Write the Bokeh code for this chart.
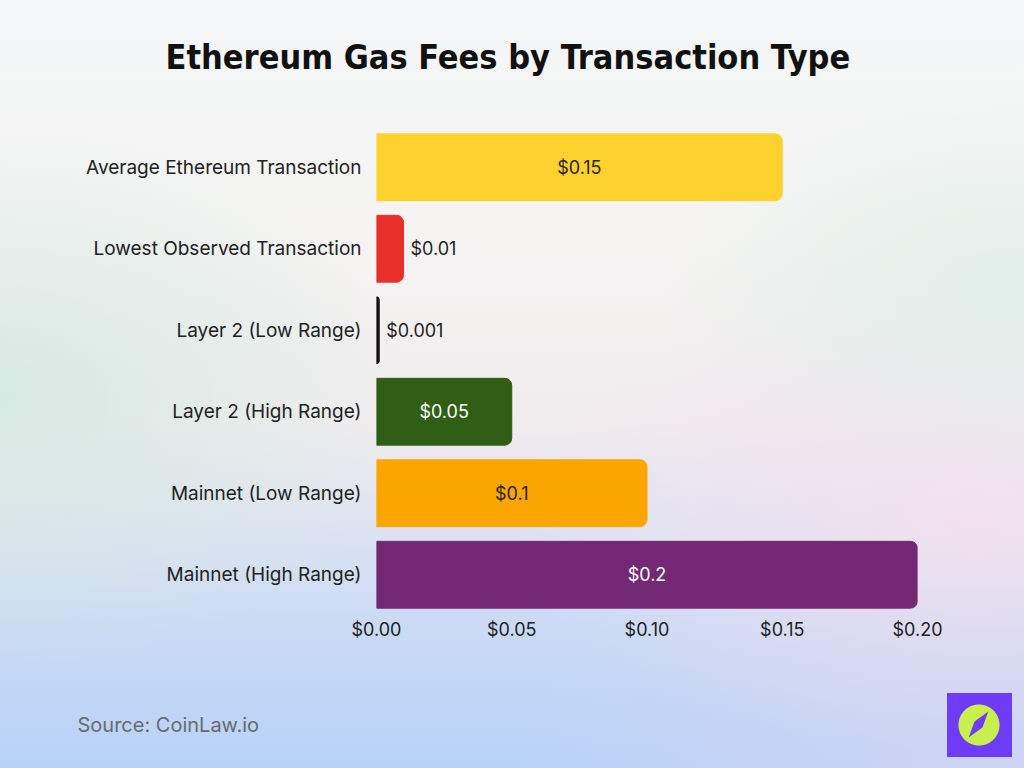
from bokeh.plotting import figure
from bokeh.models import (ColumnDataSource, NumeralTickFormatter, FixedTicker, Title,
                          InlineStyleSheet)
from bokeh.core.properties import value
from bokeh.embed import file_html
from bokeh.resources import INLINE

# ---- data ----
categories = ["Average Ethereum Transaction", "Lowest Observed Transaction",
              "Layer 2 (Low Range)", "Layer 2 (High Range)",
              "Mainnet (Low Range)", "Mainnet (High Range)"]
fees = [0.15, 0.01, 0.001, 0.05, 0.10, 0.20]
value_labels = ["$0.15", "$0.01", "$0.001", "$0.05", "$0.1", "$0.2"]
bar_colors = ["#FDD22F", "#E8302A", "#111111", "#2F5E14", "#FBA600", "#722873"]
label_colors = ["#2a2320", "#1e1e1e", "#1e1e1e", "#ffffff", "#2a2320", "#ffffff"]
label_inside = [True, False, False, True, True, True]
x_ticks = [0.0, 0.05, 0.10, 0.15, 0.20]

W, H = 1024, 768
FL, FR, FT, FB = 376, 917, 126, 615   # frame edges on canvas

lab_x = [f / 2 if inside else f for f, inside in zip(fees, label_inside)]
lab_align = ["center" if inside else "left" for inside in label_inside]
lab_off = [0 if inside else 7 for inside in label_inside]

src = ColumnDataSource(dict(cat=categories, fee=fees, color=bar_colors,
                            lab=value_labels, lx=lab_x, lcol=label_colors,
                            align=lab_align, off=lab_off))

p = figure(width=W, height=H, y_range=list(reversed(categories)),
           x_range=(0, 0.2), output_backend="svg", toolbar_location=None,
           min_border_left=FL, min_border_right=W - FR,
           min_border_top=FT, min_border_bottom=H - FB)
p.styles = {"background": (
    "radial-gradient(ellipse 40% 35% at 0% 52%, rgba(212,233,226,0.95), rgba(212,233,226,0)), "
    "radial-gradient(ellipse 35% 25% at 100% 38%, rgba(222,238,232,0.9), rgba(222,238,232,0)), "
    "radial-gradient(ellipse 45% 30% at 95% 68%, rgba(242,224,238,0.95), rgba(242,224,238,0)), "
    "radial-gradient(ellipse 50% 30% at 100% 100%, rgba(206,212,244,1), rgba(206,212,244,0)), "
    "linear-gradient(180deg, #f4f6f7 0%, #f5f4f3 30%, #f1ecee 55%, #c9daf5 82%, #b8d2f8 100%)")}
p.stylesheets = [InlineStyleSheet(css="""
:host { position: relative; }
:host::after {
  content: ""; position: absolute; left: 947px; top: 693px; width: 65px; height: 64px;
  background: radial-gradient(circle at 32px 32px, #c8ef4e 0px, #c8ef4e 20px, #6e3cf6 21px);
  pointer-events: none;
}
:host::before {
  content: ""; position: absolute; left: 975px; top: 721px; width: 7px; height: 7px;
  background: #6e3cf6; transform-origin: center;
  transform: rotate(37deg) scaleY(3.3) rotate(45deg); z-index: 5;
  pointer-events: none;
}
""")]
p.background_fill_alpha = 0
p.border_fill_alpha = 0
p.outline_line_color = None
p.grid.grid_line_color = None

p.hbar(y="cat", right="fee", left=0, height=0.82, color="color", source=src,
       border_radius=(0, 7, 7, 0))

p.text(x="lx", y="cat", text="lab", text_color="lcol", text_align="align",
       x_offset="off", text_baseline="middle", text_font=value("Inter"),
       text_font_size="18px", source=src)

# axes
p.yaxis.axis_line_color = None
p.yaxis.major_tick_line_color = None
p.yaxis.minor_tick_line_color = None
p.yaxis.major_label_text_font = "Inter"
p.yaxis.major_label_text_font_size = "19px"
p.yaxis.major_label_text_color = "#222222"
p.yaxis.major_label_standoff = 9

p.xaxis.axis_line_color = None
p.xaxis.major_tick_line_color = None
p.xaxis.minor_tick_line_color = None
p.xaxis.ticker = FixedTicker(ticks=x_ticks)
p.xaxis.formatter = NumeralTickFormatter(format="$0.00")
p.xaxis.major_label_text_font = "Inter"
p.xaxis.major_label_text_font_size = "18px"
p.xaxis.major_label_text_color = "#222222"
p.xaxis.major_label_standoff = -3

# padding order observed: (left, right, top, bottom)
p.title = Title(text="Ethereum Gas Fees by Transaction Type", align="left",
                offset=165 - FL, standoff=0, padding=(0, 0, 0, 50),
                text_font="DejaVu Sans Condensed", text_font_style="bold",
                text_font_size="34px", text_color="#111111")

p.add_layout(Title(text="Source: CoinLaw.io", align="left", offset=77 - FL,
                   standoff=0, padding=(0, 0, 68, 0),
                   text_font="Inter", text_font_style="normal",
                   text_font_size="20px", text_color="#666a70"), "below")

open("out.html", "w").write(file_html(p, INLINE))
